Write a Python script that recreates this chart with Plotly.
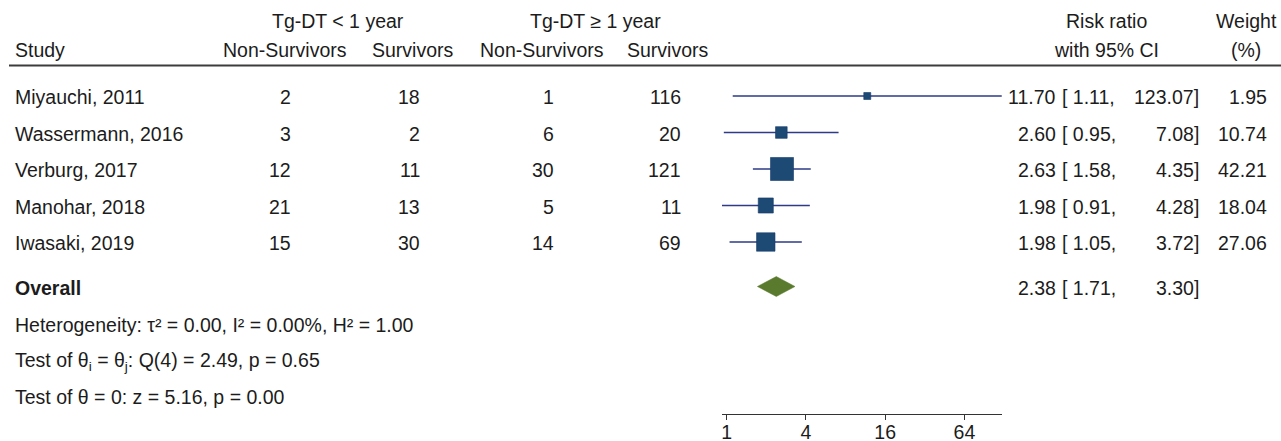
import math
import plotly.graph_objects as go

# ---------------- data ----------------
studies = ["Miyauchi, 2011", "Wassermann, 2016", "Verburg, 2017", "Manohar, 2018", "Iwasaki, 2019"]
nonsurv_lt1 = [2, 3, 12, 21, 15]
surv_lt1 = [18, 2, 11, 13, 30]
nonsurv_ge1 = [1, 6, 30, 5, 14]
surv_ge1 = [116, 20, 121, 11, 69]
rr = [11.70, 2.60, 2.63, 1.98, 1.98]
rr_low = [1.11, 0.95, 1.58, 0.91, 1.05]
rr_high = [123.07, 7.08, 4.35, 4.28, 3.72]
weight = [1.95, 10.74, 42.21, 18.04, 27.06]
overall_rr = 2.38
overall_low = 1.71
overall_high = 3.30
tau2, i2, h2 = 0.00, 0.00, 1.00
q_stat, q_df, q_p = 2.49, 4, 0.65
z_stat, z_p = 5.16, 0.00
tick_vals = [1, 4, 16, 64]
tick_text = ["1", "4", "16", "64"]

# ---------------- layout constants (pixels) ----------------
W, H = 1281, 441
AX_Y = 414                       # pixel row of the x axis line
MARK_Y = [96, 132.5, 169, 205.5, 242]
TEXT_DY = 1.0
OVERALL_Y = 286.5
FONT = "Liberation Sans, Arial, Helvetica, sans-serif"
FS = 19.5
TXT = "#1c1c1c"
LINE_COL = "#2e3b86"
BOX_COL = "#1c4a74"
DIAM_COL = "#5a7b2e"


def px(x):
    return x / W


fig = go.Figure()

# CI lines
for i in range(len(studies)):
    fig.add_trace(go.Scatter(x=[rr_low[i], rr_high[i]], y=[MARK_Y[i], MARK_Y[i]], mode="lines",
                             line=dict(color=LINE_COL, width=1.6), hoverinfo="skip", showlegend=False))
# squares
sizes = [max(7, 3.55 * math.sqrt(w)) for w in weight]
fig.add_trace(go.Scatter(x=rr, y=MARK_Y, mode="markers",
                         marker=dict(symbol="square", size=sizes, color=BOX_COL, opacity=1,
                                     line=dict(width=0.6, color="#1a3a6a")),
                         hoverinfo="skip", showlegend=False))
# diamond
fig.add_trace(go.Scatter(x=[overall_low, overall_rr, overall_high, overall_rr, overall_low],
                         y=[OVERALL_Y, OVERALL_Y - 10, OVERALL_Y, OVERALL_Y + 10, OVERALL_Y],
                         mode="lines", fill="toself", fillcolor=DIAM_COL,
                         line=dict(color=DIAM_COL, width=0.5), hoverinfo="skip", showlegend=False))

ann = []


def txt(x, y, s, anchor="left", bold=False):
    ann.append(dict(x=px(x), y=y, xref="paper", yref="y", text=s, showarrow=False,
                    xanchor=anchor, yanchor="middle",
                    font=dict(family=FONT, size=FS, color=TXT, weight=700 if bold else 400)))


# header
txt(338, 20.5, "Tg-DT &lt; 1 year", "center")
txt(595, 20.5, "Tg-DT ≥ 1 year", "center")
txt(1106, 20.5, "Risk ratio", "center")
txt(1279, 20.5, "Weight", "right")
txt(13, 49.5, "Study", "left")
txt(285, 49.5, "Non-Survivors", "center")
txt(413, 49.5, "Survivors", "center")
txt(542, 49.5, "Non-Survivors", "center")
txt(668, 49.5, "Survivors", "center")
txt(1106, 49.5, "with 95% CI", "center")
txt(1246, 49.5, "(%)", "center")

# rows
for i, s in enumerate(studies):
    y = MARK_Y[i] + TEXT_DY
    txt(13, y, s)
    txt(293, y, str(nonsurv_lt1[i]), "right")
    txt(422, y, str(surv_lt1[i]), "right")
    txt(556, y, str(nonsurv_ge1[i]), "right")
    txt(683, y, str(surv_ge1[i]), "right")
    txt(1058, y, f"{rr[i]:.2f}", "right")
    txt(1060, y, f"[ {rr_low[i]:.2f},", "left")
    txt(1201, y, f"{rr_high[i]:.2f}]", "right")
    txt(1269, y, f"{weight[i]:.2f}", "right")

oy = OVERALL_Y + TEXT_DY
txt(13, oy, "Overall", bold=True)
txt(1058, oy, f"{overall_rr:.2f}", "right")
txt(1060, oy, f"[ {overall_low:.2f},", "left")
txt(1201, oy, f"{overall_high:.2f}]", "right")

txt(13, 324.5, f"Heterogeneity: τ² = {tau2:.2f}, I² = {i2:.2f}%, H² = {h2:.2f}")
txt(13, 361, f"Test of θ<sub>i</sub> = θ<sub>j</sub>: Q({q_df}) = {q_stat:.2f}, p = {q_p:.2f}")
txt(13, 396.5, f"Test of θ = 0: z = {z_stat:.2f}, p = {z_p:.2f}")

shapes = [dict(type="line", xref="paper", yref="y", x0=px(9), x1=1, y0=65.5, y1=65.5,
               line=dict(color="#3c3c3c", width=2))]

lo_l2, hi_l2 = -0.12, 6.95
fig.update_layout(
    width=W, height=H, margin=dict(l=0, r=0, t=0, b=0, autoexpand=False),
    paper_bgcolor="white", plot_bgcolor="white",
    xaxis=dict(type="log", domain=[px(722), px(1002)],
               range=[lo_l2 * math.log10(2), hi_l2 * math.log10(2)],
               tickvals=tick_vals, ticktext=tick_text, ticks="outside", ticklen=5, tickwidth=1,
               tickcolor="#333", showline=True, linecolor="#333", linewidth=1,
               showgrid=False, zeroline=False, automargin=False, ticklabelstandoff=-4,
               tickfont=dict(family=FONT, size=FS, color=TXT)),
    yaxis=dict(domain=[1 - AX_Y / H, 1], range=[AX_Y, 0], visible=False, showgrid=False,
               automargin=False),
    annotations=ann, shapes=shapes, showlegend=False,
)

fig.write_html("out.html", config={"displayModeBar": False, "responsive": False},
               post_script="document.body.style.margin='0px';document.body.style.overflow='hidden';")
